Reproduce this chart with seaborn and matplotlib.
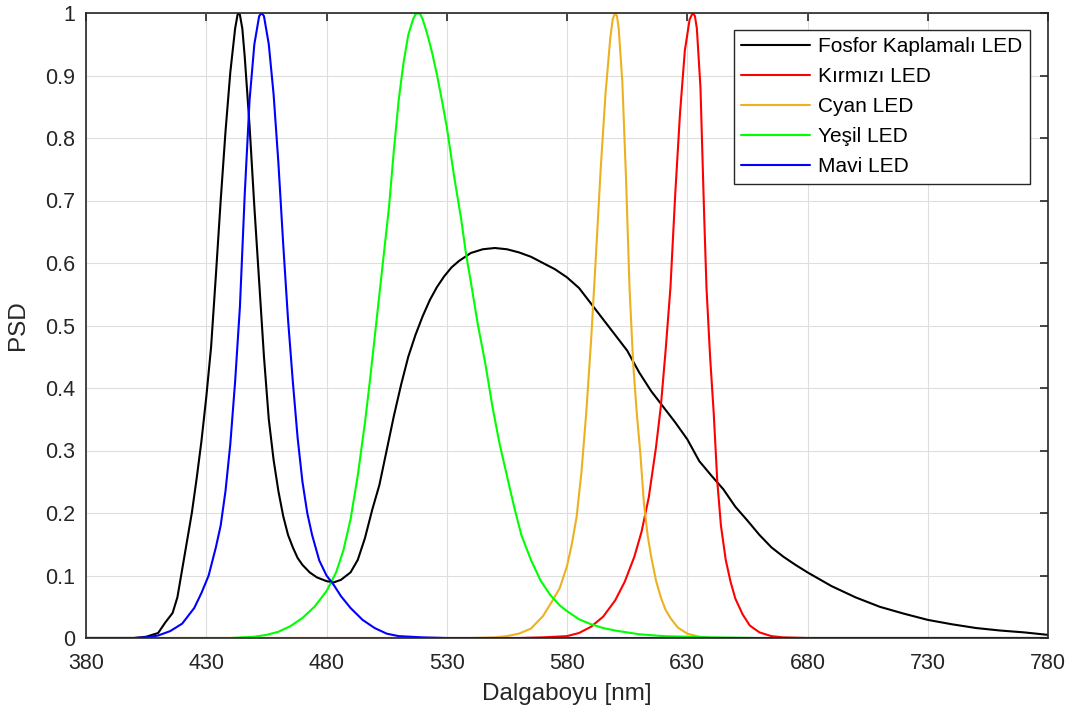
import matplotlib
matplotlib.use("Agg")
import matplotlib.pyplot as plt
import seaborn as sns
import pandas as pd

# ---- data ----
fosfor_nm = [380, 400, 405, 410, 413, 416, 418, 420, 422, 424, 426, 428, 430, 432, 434, 436, 438, 440, 442, 443, 443.5,
             444, 445, 446, 448, 450, 452, 454, 456, 458, 460, 462, 464, 466, 468, 470, 473, 476, 480, 483, 486, 490,
             493, 496, 499, 502, 505, 508, 511, 514, 517, 520, 523, 526, 529, 532, 535, 540, 545, 550, 555, 560, 565,
             570, 575, 580, 585, 590, 595, 600, 605, 610, 615, 620, 625, 630, 635, 640, 645, 650, 655, 660, 665,
             670, 675, 680, 685, 690, 695, 700, 710, 720, 730, 740, 750, 760, 770, 780]
fosfor_val = [0, 0, 0.002, 0.008, 0.025, 0.04, 0.065, 0.11, 0.155, 0.20, 0.255, 0.315, 0.385, 0.465, 0.58, 0.70, 0.81, 0.905, 0.975, 0.997, 1.0,
              0.997, 0.975, 0.93, 0.82, 0.69, 0.57, 0.45, 0.35, 0.285, 0.235, 0.195, 0.165, 0.145, 0.128, 0.117, 0.105, 0.097, 0.091, 0.089, 0.093, 0.105,
              0.125, 0.16, 0.205, 0.245, 0.30, 0.355, 0.405, 0.45, 0.485, 0.515, 0.541, 0.562, 0.579, 0.593, 0.603, 0.616, 0.622, 0.624, 0.622, 0.617, 0.61,
              0.60, 0.59, 0.577, 0.56, 0.535, 0.51, 0.485, 0.46, 0.425, 0.395, 0.37, 0.345, 0.318, 0.283, 0.26, 0.238, 0.21, 0.188, 0.165, 0.145,
              0.13, 0.117, 0.105, 0.094, 0.083, 0.074, 0.065, 0.05, 0.039, 0.029, 0.022, 0.016, 0.012, 0.009, 0.005]

kirmizi_nm = [380, 560, 570, 580, 585, 590, 595, 600, 604, 608, 611, 614, 617, 619, 621, 623, 625, 627, 629, 631, 632.3,
              633.2, 634, 635.5, 637, 638, 639.5, 641, 642.5, 644, 646, 648, 650, 653, 656, 660, 665, 670, 680, 780]
kirmizi_val = [0, 0, 0.001, 0.003, 0.008, 0.018, 0.034, 0.06, 0.09, 0.13, 0.17, 0.225, 0.305, 0.37, 0.46, 0.56, 0.71, 0.84, 0.94, 0.99, 1.0,
               0.995, 0.975, 0.88, 0.68, 0.56, 0.45, 0.36, 0.25, 0.18, 0.125, 0.09, 0.063, 0.038, 0.02, 0.009, 0.003, 0.001, 0, 0]

cyan_nm = [380, 540, 550, 555, 560, 565, 570, 574, 577, 580, 582, 584, 586, 588, 590, 592, 594, 596, 598, 599, 600,
           600.8, 601.5, 603, 604.5, 606, 607.5, 609, 610.5, 612, 613.5, 615, 617, 619, 621, 623, 626, 630, 635, 640, 780]
cyan_val = [0, 0, 0.001, 0.003, 0.007, 0.015, 0.035, 0.06, 0.08, 0.115, 0.15, 0.194, 0.265, 0.36, 0.475, 0.61, 0.75, 0.87, 0.96, 0.99, 1.0,
            0.995, 0.975, 0.89, 0.74, 0.56, 0.44, 0.36, 0.295, 0.215, 0.165, 0.13, 0.092, 0.065, 0.045, 0.032, 0.017, 0.007, 0.002, 0, 0]

yesil_nm = [380, 440, 450, 455, 460, 465, 470, 475, 480, 484, 487, 490, 493, 496, 498, 500, 502, 504, 506, 508, 510,
            512, 514, 516, 517, 518, 519, 520, 522, 524, 526, 528, 530, 533, 536, 538, 540, 543, 546, 549, 552, 555, 558,
            561, 565, 569, 573, 577, 580, 585, 590, 595, 600, 610, 620, 640, 660, 780]
yesil_val = [0, 0, 0.002, 0.005, 0.01, 0.019, 0.032, 0.05, 0.075, 0.105, 0.14, 0.19, 0.26, 0.345, 0.41, 0.48, 0.55, 0.62, 0.69, 0.78, 0.86,
             0.92, 0.965, 0.99, 0.998, 1.0, 0.998, 0.99, 0.965, 0.935, 0.9, 0.86, 0.818, 0.74, 0.67, 0.615, 0.57, 0.5, 0.44, 0.37, 0.31, 0.26, 0.21,
             0.165, 0.125, 0.092, 0.069, 0.052, 0.043, 0.03, 0.022, 0.016, 0.012, 0.006, 0.003, 0.001, 0, 0]

mavi_nm = [380, 400, 405, 410, 415, 420, 425, 428, 431, 434, 436, 438, 440, 442, 444, 446, 448, 450, 452, 453,
           454, 456, 458, 460, 462, 464, 466, 468, 470, 472, 474, 477, 480, 483, 486, 490, 495, 500, 505, 510,
           520, 530, 780]
mavi_val = [0, 0, 0.001, 0.004, 0.011, 0.023, 0.048, 0.072, 0.10, 0.145, 0.18, 0.235, 0.31, 0.41, 0.53, 0.71, 0.86, 0.95, 0.995, 1.0,
            0.995, 0.95, 0.87, 0.76, 0.63, 0.51, 0.41, 0.32, 0.25, 0.2, 0.165, 0.124, 0.1, 0.085, 0.067, 0.048, 0.029, 0.016, 0.007, 0.003,
            0.001, 0, 0]

series_names = ["Fosfor Kaplamalı LED", "Kırmızı LED", "Cyan LED", "Yeşil LED", "Mavi LED"]
series_colors = ["#000000", "#FF0000", "#EDB120", "#00FF00", "#0000FF"]
xticks = [380, 430, 480, 530, 580, 630, 680, 730, 780]
yticks = [0, 0.1, 0.2, 0.3, 0.4, 0.5, 0.6, 0.7, 0.8, 0.9, 1.0]
ytick_labels = ["0", "0.1", "0.2", "0.3", "0.4", "0.5", "0.6", "0.7", "0.8", "0.9", "1"]
xlabel = "Dalgaboyu [nm]"
ylabel = "PSD"

frames = []
for name, xs, ys in zip(series_names,
                        [fosfor_nm, kirmizi_nm, cyan_nm, yesil_nm, mavi_nm],
                        [fosfor_val, kirmizi_val, cyan_val, yesil_val, mavi_val]):
    frames.append(pd.DataFrame({"nm": xs, "psd": ys, "seri": name}))
df = pd.concat(frames, ignore_index=True)

sns.set_theme(style="white")
plt.rcParams["font.family"] = ["Liberation Sans", "DejaVu Sans"]
axc = "#262626"

fig = plt.figure(figsize=(10.76, 7.14), dpi=100)
ax = fig.add_axes([86 / 1076, 1 - 638 / 714, (1048 - 86) / 1076, (638 - 13) / 714])

sns.lineplot(data=df, x="nm", y="psd", hue="seri", hue_order=series_names,
             palette=dict(zip(series_names, series_colors)), estimator=None, sort=False,
             linewidth=1.5, ax=ax)

ax.set_xlim(380, 780)
ax.set_ylim(0, 1)
ax.set_xticks(xticks)
ax.set_xticklabels([str(t) for t in xticks])
ax.set_yticks(yticks)
ax.set_yticklabels(ytick_labels)
ax.grid(True, color="#dedede", linewidth=0.8)
ax.set_axisbelow(True)
for s in ax.spines.values():
    s.set_color(axc)
    s.set_linewidth(1.2)
ax.tick_params(direction="in", length=6, width=1.2, colors=axc, labelsize=15.5,
               top=True, right=True)
ax.tick_params(axis="x", pad=11)
ax.tick_params(axis="y", pad=8)
ax.set_xlabel(xlabel, fontsize=17.5, color=axc, labelpad=6)
ax.set_ylabel(ylabel, fontsize=17.5, color=axc, labelpad=11)

leg = ax.legend(loc="upper right", bbox_to_anchor=(0.9813, 0.9728), borderaxespad=0,
                fontsize=15, handlelength=3.3, labelspacing=0.53, handletextpad=0.4,
                borderpad=0.35, fancybox=False, framealpha=1)
leg.get_frame().set_edgecolor(axc)
leg.get_frame().set_linewidth(1.0)
for t in leg.get_texts():
    t.set_color("#000000")

fig.savefig("out.png", dpi=100)
